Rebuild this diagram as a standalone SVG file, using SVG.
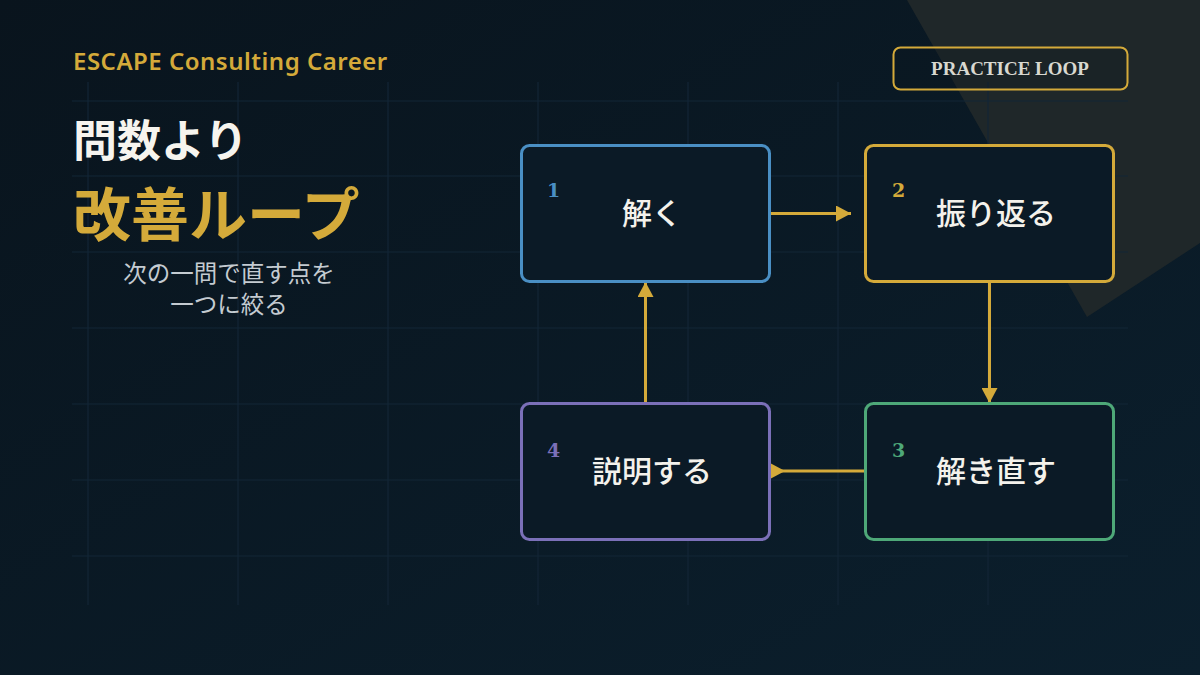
<svg xmlns="http://www.w3.org/2000/svg" width="1200" height="675" viewBox="0 0 1200 675">
  <defs>
    <linearGradient id="bg" x1="0" y1="0" x2="1" y2="1">
      <stop offset="0" stop-color="#09141d"/>
      <stop offset="1" stop-color="#0b1f2d"/>
    </linearGradient>
    <marker id="arrowEnd" viewBox="0 0 15 16" refX="15" refY="8" markerWidth="15" markerHeight="16" markerUnits="userSpaceOnUse" orient="auto">
      <path d="M0,0 L15,8 L0,16 Z" fill="#d4aa3a"/>
    </marker>
    <marker id="arrowBase" viewBox="0 0 15 16" refX="0" refY="8" markerWidth="15" markerHeight="16" markerUnits="userSpaceOnUse" orient="auto">
      <path d="M0,0 L15,8 L0,16 Z" fill="#d4aa3a"/>
    </marker>
  </defs>
  <style>
    .grid line { stroke: #132636; stroke-width: 1.2; }
    .node rect { fill: #0b1a26; stroke-width: 3; }
    .num { font-family: "DejaVu Serif", serif; font-weight: 700; font-size: 19px; }
    .label { font-family: "Noto Sans CJK JP", sans-serif; font-weight: 500; font-size: 30px; fill: #f4f2ec; text-anchor: middle; }
    .conn line { stroke: #d4aa3a; stroke-width: 3; fill: none; }
  </style>

  <rect x="0" y="0" width="1200" height="675" fill="url(#bg)"/>
  <polygon points="907,0 1200,0 1200,243 1087,317" fill="#1f2729"/>

  <g class="grid">
    <line x1="88" y1="82" x2="88" y2="605"/>
    <line x1="238" y1="82" x2="238" y2="605"/>
    <line x1="388" y1="82" x2="388" y2="605"/>
    <line x1="538" y1="82" x2="538" y2="605"/>
    <line x1="688" y1="82" x2="688" y2="605"/>
    <line x1="838" y1="82" x2="838" y2="605"/>
    <line x1="988" y1="82" x2="988" y2="605"/>
    <line x1="72" y1="101" x2="1128" y2="101"/>
    <line x1="72" y1="176" x2="1128" y2="176"/>
    <line x1="72" y1="252" x2="1128" y2="252"/>
    <line x1="72" y1="328" x2="1128" y2="328"/>
    <line x1="72" y1="404" x2="1128" y2="404"/>
    <line x1="72" y1="480" x2="1128" y2="480"/>
    <line x1="72" y1="556" x2="1128" y2="556"/>
  </g>

  <g id="header">
    <text x="73" y="70" font-family="'Noto Sans', sans-serif" font-weight="600" font-size="24" letter-spacing="0.5" fill="#d4aa3a">ESCAPE Consulting Career</text>
    <text x="73" y="157" font-family="'Noto Sans CJK JP', sans-serif" font-weight="700" font-size="44" fill="#f6f4ee">問数より</text>
    <text x="73" y="236" font-family="'Noto Sans CJK JP', sans-serif" font-weight="700" font-size="58" fill="#d4aa3a">改善ループ</text>
    <text x="229" y="282" text-anchor="middle" font-family="'Noto Sans CJK JP', sans-serif" font-weight="400" font-size="23.5" fill="#c4cbd1">次の一問で直す点を</text>
    <text x="229" y="313" text-anchor="middle" font-family="'Noto Sans CJK JP', sans-serif" font-weight="400" font-size="23.5" fill="#c4cbd1">一つに絞る</text>
  </g>

  <g id="badge">
    <rect x="893.5" y="47.5" width="234" height="42" rx="7" fill="#0a1620" fill-opacity="0.2" stroke="#d4aa3a" stroke-width="2"/>
    <text x="1010" y="75" text-anchor="middle" font-family="'Liberation Serif', serif" font-weight="700" font-size="19" fill="#d8d8d0">PRACTICE LOOP</text>
  </g>

  <g class="conn" id="connectors">
    <line x1="770" y1="213.5" x2="851" y2="213.5" marker-end="url(#arrowEnd)"/>
    <line x1="989.5" y1="283" x2="989.5" y2="403" marker-end="url(#arrowEnd)"/>
    <line x1="770" y1="471" x2="865" y2="471" marker-start="url(#arrowBase)"/>
    <line x1="645.5" y1="403" x2="645.5" y2="282" marker-end="url(#arrowEnd)"/>
  </g>

  <g id="node1" class="node">
    <rect x="521.5" y="145.5" width="248" height="136" rx="8" stroke="#4a8fc4"/>
    <text class="num" x="547" y="197" fill="#4a8fc4">1</text>
    <text class="label" x="652" y="224">解く</text>
  </g>
  <g id="node2" class="node">
    <rect x="865.5" y="145.5" width="248" height="136" rx="8" stroke="#d4aa3a"/>
    <text class="num" x="892" y="197" fill="#d4aa3a">2</text>
    <text class="label" x="996" y="224">振り返る</text>
  </g>
  <g id="node3" class="node">
    <rect x="865.5" y="403.5" width="248" height="136" rx="8" stroke="#4ea878"/>
    <text class="num" x="892" y="457" fill="#4ea878">3</text>
    <text class="label" x="996" y="482">解き直す</text>
  </g>
  <g id="node4" class="node">
    <rect x="521.5" y="403.5" width="248" height="136" rx="8" stroke="#7b70b8"/>
    <text class="num" x="547" y="457" fill="#7b70b8">4</text>
    <text class="label" x="652" y="482">説明する</text>
  </g>
</svg>
